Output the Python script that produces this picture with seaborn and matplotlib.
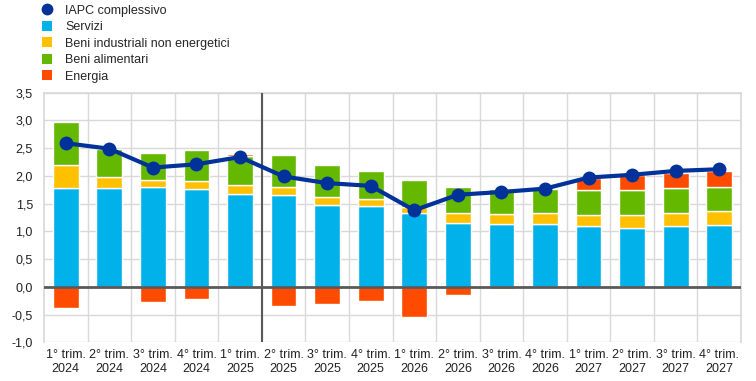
import numpy as np
import pandas as pd
import matplotlib
matplotlib.use("Agg")
import matplotlib.pyplot as plt
from matplotlib.lines import Line2D
import seaborn as sns

quarters = ["1° trim.\n2024", "2° trim.\n2024", "3° trim.\n2024", "4° trim.\n2024",
            "1° trim.\n2025", "2° trim.\n2025", "3° trim.\n2025", "4° trim.\n2025",
            "1° trim.\n2026", "2° trim.\n2026", "3° trim.\n2026", "4° trim.\n2026",
            "1° trim.\n2027", "2° trim.\n2027", "3° trim.\n2027", "4° trim.\n2027"]
servizi = [1.79, 1.79, 1.80, 1.76, 1.67, 1.65, 1.47, 1.46,
           1.34, 1.15, 1.13, 1.13, 1.10, 1.06, 1.10, 1.11]
beni_ind = [0.41, 0.19, 0.13, 0.15, 0.17, 0.15, 0.15, 0.12,
            0.10, 0.19, 0.19, 0.21, 0.19, 0.23, 0.24, 0.26]
beni_alim = [0.77, 0.50, 0.48, 0.55, 0.51, 0.58, 0.57, 0.51,
             0.49, 0.46, 0.44, 0.43, 0.46, 0.46, 0.45, 0.43]
energia = [-0.39, 0.00, -0.27, -0.22, 0.04, -0.34, -0.31, -0.25,
           -0.54, -0.15, -0.04, -0.03, 0.21, 0.27, 0.27, 0.29]
iapc = [2.59, 2.49, 2.15, 2.21, 2.34, 1.99, 1.87, 1.82,
        1.38, 1.66, 1.71, 1.77, 1.97, 2.02, 2.09, 2.12]
yticks = [-1.0, -0.5, 0.0, 0.5, 1.0, 1.5, 2.0, 2.5, 3.0, 3.5]

c_iapc = "#003299"
c_serv = "#00B1EA"
c_ind = "#FFC000"
c_alim = "#65B800"
c_en = "#FF4B00"

sns.set_theme(style="white")
plt.rcParams["font.family"] = ["Liberation Sans", "DejaVu Sans"]

fig = plt.figure(figsize=(7.56, 3.81), dpi=100)
ax = fig.add_axes([44/756, 1-342.3/381, (741-44)/756, (342.3-92.7)/381])

df = pd.DataFrame({"q": quarters, "serv": servizi, "ind": beni_ind,
                   "alim": beni_alim, "en": energia, "iapc": iapc})
x = np.arange(len(df))
w = 0.59
serv = df["serv"].to_numpy()
ind = df["ind"].to_numpy()
alim = df["alim"].to_numpy()
en = df["en"].to_numpy()
ax.bar(x, serv, w, color=c_serv, zorder=2)
ax.bar(x, ind, w, bottom=serv, color=c_ind, zorder=2)
ax.bar(x, alim, w, bottom=serv + ind, color=c_alim, zorder=2)
pos_top = serv + ind + alim
en_bottom = np.where(en > 0, pos_top, 0.0)
ax.bar(x, en, w, bottom=en_bottom, color=c_en, zorder=2)

sns.lineplot(x=x, y=df["iapc"], ax=ax, color=c_iapc, linewidth=3,
             marker="o", markersize=10, markeredgewidth=0, zorder=4)

ax.set_xlim(-0.5, len(df) - 0.5)
ax.set_ylim(-1.0, 3.5)
ax.set_yticks(yticks)
ax.set_yticklabels([f"{v:.1f}".replace(".", ",") for v in yticks], fontsize=9, color="#222222")
ax.set_xticks(x)
ax.set_xticklabels(df["q"], fontsize=9, color="#222222", linespacing=1.15)
ax.grid(False)
for v in yticks:
    if v != 0:
        ax.axhline(v, color="#d9d9d9", linewidth=1, zorder=0)
for b in np.arange(0.5, len(df) - 0.5):
    ax.axvline(b, color="#d9d9d9", linewidth=1, zorder=0)
ax.axvline(4.5, color="#595959", linewidth=1.5, zorder=3)
ax.axhline(0, color="#595959", linewidth=2, zorder=3)
ax.spines["bottom"].set_visible(False)
for s in ["left", "right", "top"]:
    ax.spines[s].set_visible(True)
    ax.spines[s].set_color("#d9d9d9")
ax.tick_params(axis="y", length=0, pad=8)
ax.tick_params(axis="x", length=0, pad=5)
ax.set_xlabel("")
ax.set_ylabel("")

handles = [
    Line2D([], [], marker="o", color="none", markerfacecolor=c_iapc, markeredgewidth=0, markersize=8.5),
    Line2D([], [], marker="s", color="none", markerfacecolor=c_serv, markeredgewidth=0, markersize=7.5),
    Line2D([], [], marker="s", color="none", markerfacecolor=c_ind, markeredgewidth=0, markersize=7.5),
    Line2D([], [], marker="s", color="none", markerfacecolor=c_alim, markeredgewidth=0, markersize=7.5),
    Line2D([], [], marker="s", color="none", markerfacecolor=c_en, markeredgewidth=0, markersize=7.5),
]
labels = ["IAPC complessivo", "Servizi", "Beni industriali non energetici",
          "Beni alimentari", "Energia"]
fig.legend(handles, labels, loc="upper left", bbox_to_anchor=(41/756, 0.988),
           frameon=False, fontsize=9, handlelength=1.0, handletextpad=0.95,
           labelspacing=0.36, borderpad=0, borderaxespad=0)

fig.savefig("out.png", dpi=100)
